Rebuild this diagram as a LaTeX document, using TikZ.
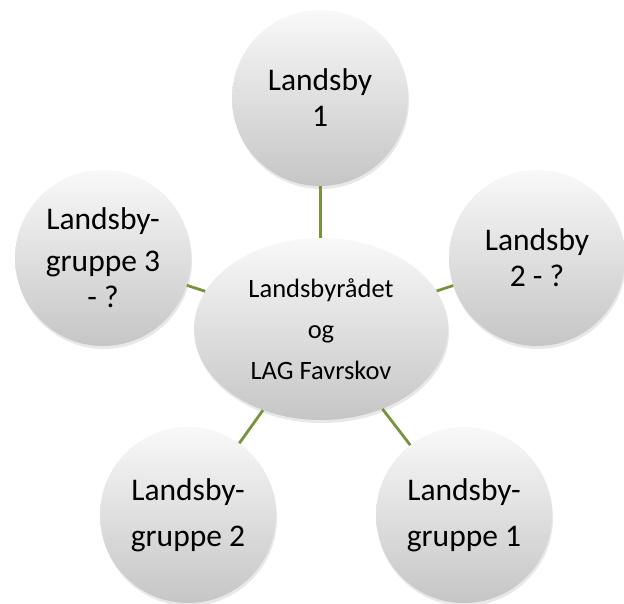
\documentclass[tikz,border=0pt]{standalone}
\usepackage{fontspec}
\setmainfont{Carlito}
\usetikzlibrary{shapes.geometric,shadows}
\definecolor{linegreen}{HTML}{77933C}
\begin{document}
\begin{tikzpicture}[x=1pt,y=-1pt,
  ball/.style={circle, inner sep=0pt, minimum size=176pt, top color=gray!5, bottom color=gray!45,
    draw=none, align=center, font=\fontsize{31.5}{36}\selectfont,
    drop shadow={shadow xshift=1pt, shadow yshift=-3pt, opacity=0.18}},
  hub/.style={ellipse, inner sep=0pt, minimum width=254pt, minimum height=182pt, top color=gray!5, bottom color=gray!45,
    draw=none, align=center, font=\fontsize{26.5}{41}\selectfont,
    drop shadow={shadow xshift=1pt, shadow yshift=-3pt, opacity=0.18}},
  link/.style={draw=linegreen, line width=2.8pt}]
\useasboundingbox (0,0) rectangle (624,603);
\node[hub] (c) at (321,329) {Landsbyrådet\\og\\LAG Favrskov};
\node[ball] (t) at (320,98) {Landsby\\1};
\node[ball] (r) at (537,258) {Landsby\\2 - ?};
\node[ball] (l) at (103,258) {Landsby-\\[6pt]gruppe 3\\- ?};
\node[ball] (bl) at (188,515) {Landsby-\\[10pt]gruppe 2};
\node[ball] (br) at (464,515) {Landsby-\\[10pt]gruppe 1};
\draw[link] (c) -- (t);
\draw[link] (c) -- (r);
\draw[link] (c) -- (l);
\draw[link] (c) -- (bl);
\draw[link] (c) -- (br);
\end{tikzpicture}
\end{document}
